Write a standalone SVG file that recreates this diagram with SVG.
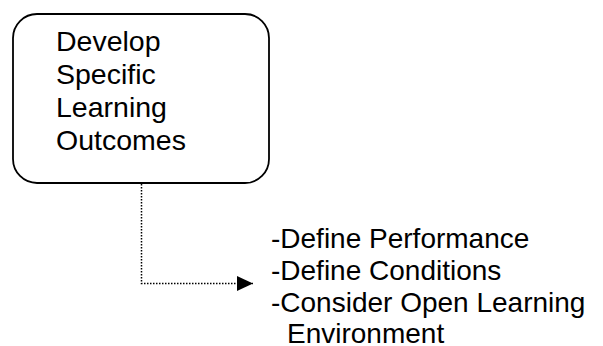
<svg xmlns="http://www.w3.org/2000/svg" width="603" height="346" viewBox="0 0 603 346">
<style>
text{font-family:"Liberation Sans",Arial,sans-serif;font-size:28px;fill:#000}
.big{font-size:28.5px}
.box{fill:#fff;stroke:#000;stroke-width:1.8}
.conn{fill:none;stroke:#000;stroke-width:1.5;stroke-dasharray:1.5 1.5}
</style>
<defs>
<marker id="arr" markerWidth="16" markerHeight="15" refX="16" refY="7.5" orient="auto" markerUnits="userSpaceOnUse">
<path d="M0,0 L16,7.5 L0,15 Z" fill="#000"/>
</marker>
</defs>
<rect width="603" height="346" fill="#fff"/>
<g id="node-outcomes">
<rect class="box" x="13" y="14" width="256" height="169" rx="24" ry="24"/>
<text class="big" x="56" y="51">Develop</text>
<text class="big" x="56" y="84">Specific</text>
<text class="big" x="56" y="117">Learning</text>
<text class="big" x="56" y="150">Outcomes</text>
</g>
<g id="connectors">
<path class="conn" d="M141.5,184 V283.5 H253" marker-end="url(#arr)"/>
</g>
<g id="node-list">
<text x="271" y="248">-Define Performance</text>
<text x="271" y="280">-Define Conditions</text>
<text x="271" y="312">-Consider Open Learning</text>
<text x="287" y="343">Environment</text>
</g>
</svg>
